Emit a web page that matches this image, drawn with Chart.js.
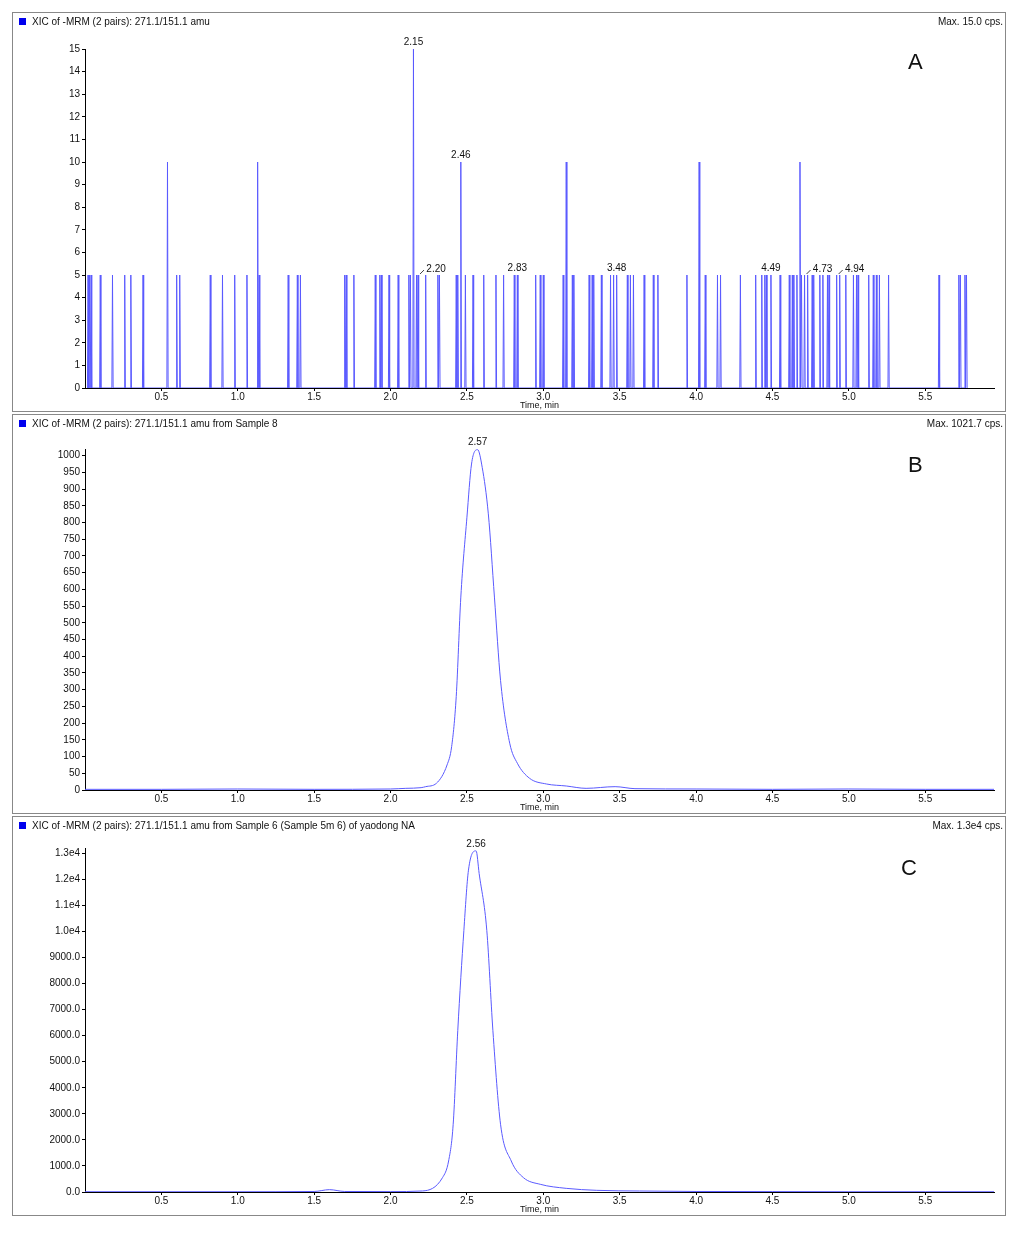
<!DOCTYPE html>
<html>
<head>
<meta charset="utf-8">
<script src="https://cdn.jsdelivr.net/npm/chart.js@4/dist/chart.umd.min.js"></script>
<style>
  body { margin: 0; background: #fff; font-family: "Liberation Sans", Arial, sans-serif; }
  .panel { position: absolute; left: 12px; width: 992px; height: 398px; border: 1px solid #888; }
  .panel canvas { position: absolute; left: 0; top: 0; }
  .hdr { position: absolute; top: 3px; left: 6px; font-size: 10px; color: #111; }
  .hdr i { display: inline-block; width: 7px; height: 7px; background: #0000ee; margin-right: 6px; }
  .max { position: absolute; top: 3px; right: 2px; font-size: 10px; color: #111; }
  .tag { position: absolute; font-size: 22px; color: #111; }
</style>
</head>
<body>
<div class="panel" style="top:12px">
  <canvas id="chartA" width="992" height="398"></canvas>
  <div class="hdr"><i></i>XIC of -MRM (2 pairs): 271.1/151.1 amu</div>
  <div class="max">Max. 15.0 cps.</div>
  <div class="tag" style="left:895px;top:36px">A</div>
</div>
<div class="panel" style="top:414px">
  <canvas id="chartB" width="992" height="398"></canvas>
  <div class="hdr"><i></i>XIC of -MRM (2 pairs): 271.1/151.1 amu from Sample 8</div>
  <div class="max">Max. 1021.7 cps.</div>
  <div class="tag" style="left:895px;top:37px">B</div>
</div>
<div class="panel" style="top:816px">
  <canvas id="chartC" width="992" height="398"></canvas>
  <div class="hdr"><i></i>XIC of -MRM (2 pairs): 271.1/151.1 amu from Sample 6 (Sample 5m 6) of yaodong NA</div>
  <div class="max">Max. 1.3e4 cps.</div>
  <div class="tag" style="left:888px;top:38px">C</div>
</div>
<script>
// Panel A: noise spikes (time, height)
const spikeTimesA = [0.02, 0.03, 0.04, 0.10, 0.18, 0.26, 0.30, 0.38, 0.54, 0.60, 0.62, 0.82, 0.90, 0.98, 1.06,
  1.13, 1.14, 1.33, 1.39, 1.41, 1.70, 1.71, 1.76, 1.90, 1.93, 1.94, 1.99, 2.05, 2.12, 2.13, 2.15, 2.17, 2.18,
  2.23, 2.31, 2.32, 2.43, 2.44, 2.46, 2.49, 2.54, 2.61, 2.69, 2.74, 2.81, 2.83, 2.95, 2.98, 3.00, 3.13, 3.15,
  3.19, 3.20, 3.30, 3.32, 3.33, 3.38, 3.44, 3.46, 3.48, 3.55, 3.57, 3.59, 3.66, 3.72, 3.75, 3.94, 4.02, 4.06,
  4.14, 4.16, 4.29, 4.39, 4.43, 4.45, 4.46, 4.49, 4.55, 4.61, 4.63, 4.64, 4.66, 4.68, 4.69, 4.71, 4.73, 4.76,
  4.77, 4.81, 4.83, 4.86, 4.87, 4.92, 4.94, 4.98, 5.03, 5.05, 5.06, 5.13, 5.16, 5.18, 5.20, 5.26, 5.59, 5.72,
  5.73, 5.76, 5.77];
const spikeHeightsA = [5, 5, 5, 5, 5, 5, 5, 5, 10, 5, 5, 5, 5, 5, 5,
  10, 5, 5, 5, 5, 5, 5, 5, 5, 5, 5, 5, 5, 5, 5, 15, 5, 5,
  5, 5, 5, 5, 5, 10, 5, 5, 5, 5, 5, 5, 5, 5, 5, 5, 5, 10,
  5, 5, 5, 5, 5, 5, 5, 5, 5, 5, 5, 5, 5, 5, 5, 5, 10, 5,
  5, 5, 5, 5, 5, 5, 5, 5, 5, 5, 5, 5, 5, 10, 5, 5, 5, 5,
  5, 5, 5, 5, 5, 5, 5, 5, 5, 5, 5, 5, 5, 5, 5, 5, 5, 5,
  5, 5, 5];
const labelsA = [[2.15, 15, '2.15', 0], [2.46, 10, '2.46', 0], [2.18, 5, '2.20', 14], [2.83, 5, '2.83', 0],
  [3.48, 5, '3.48', 0], [4.49, 5, '4.49', 0], [4.71, 5, '4.73', 14], [4.92, 5, '4.94', 14]];

// Panel B: peak at 2.57
const timesB = [0.0, 0.5, 1.0, 1.5, 2.0, 2.1, 2.2, 2.23, 2.30, 2.37, 2.40, 2.43, 2.46, 2.50, 2.53, 2.57, 2.60,
  2.64, 2.68, 2.72, 2.78, 2.83, 2.91, 3.02, 3.15, 3.28, 3.47, 3.60, 4.0, 4.5, 5.0, 5.5, 5.95];
const valuesB = [2, 2, 3, 2, 3, 5, 7, 10, 20, 75, 130, 280, 577, 816, 975, 1018, 965,
  826, 577, 328, 140, 80, 35, 18, 12, 5, 10, 4, 3, 2, 3, 2, 2];
const labelsB = [[2.57, 1018, '2.57', 0]];

// Panel C: peak at 2.56
const timesC = [0.0, 0.5, 1.0, 1.5, 1.6, 1.7, 2.0, 2.21, 2.34, 2.38, 2.41, 2.44, 2.48, 2.51, 2.56, 2.58,
  2.63, 2.67, 2.72, 2.79, 2.87, 2.98, 3.15, 3.35, 3.63, 4.0, 4.5, 5.0, 5.5, 5.95];
const valuesC = [10, 10, 10, 20, 90, 20, 15, 40, 550, 1190, 2600, 6190, 10040, 12350, 13090, 12220,
  10040, 6190, 2600, 1190, 550, 295, 140, 64, 38, 20, 15, 10, 10, 10];
const labelsC = [[2.56, 13090, '2.56', 0]];

const xTicks = [0.5, 1.0, 1.5, 2.0, 2.5, 3.0, 3.5, 4.0, 4.5, 5.0, 5.5];
const yTicksA = [0, 1, 2, 3, 4, 5, 6, 7, 8, 9, 10, 11, 12, 13, 14, 15];
const yTicksB = [0, 50, 100, 150, 200, 250, 300, 350, 400, 450, 500, 550, 600, 650, 700, 750, 800, 850, 900, 950, 1000];
const yTicksC = [0, 1000, 2000, 3000, 4000, 5000, 6000, 7000, 8000, 9000, 10000, 11000, 12000, 13000];
const yLabelsC = ['0.0', '1000.0', '2000.0', '3000.0', '4000.0', '5000.0', '6000.0', '7000.0', '8000.0',
  '9000.0', '1.0e4', '1.1e4', '1.2e4', '1.3e4'];

const LINE = '#5a5aff';
const FONT = { family: '"Liberation Sans", Arial, sans-serif', size: 10 };

function spikePoints(times, heights) {
  const pts = [];
  times.forEach((t, i) => {
    pts.push({ x: t - 0.004, y: 0 }, { x: t, y: heights[i] }, { x: t + 0.004, y: 0 });
  });
  return pts;
}

const peakLabels = {
  id: 'peakLabels',
  afterDatasetsDraw(chart, args, opts) {
    const ctx = chart.ctx, xs = chart.scales.x, ys = chart.scales.y;
    ctx.save();
    ctx.font = '10px "Liberation Sans", Arial, sans-serif';
    ctx.fillStyle = '#111';
    ctx.strokeStyle = '#111';
    ctx.textAlign = 'center';
    ctx.textBaseline = 'bottom';
    opts.items.forEach(([t, v, txt, off]) => {
      const px = xs.getPixelForValue(t), py = ys.getPixelForValue(v);
      if (off) {
        ctx.beginPath(); ctx.moveTo(px + 2, py - 1); ctx.lineTo(px + off - 8, py - 5); ctx.lineWidth = 0.8; ctx.stroke();
        ctx.fillText(txt, px + off + 4, py - 1);
      } else {
        ctx.fillText(txt, px, py - 2);
      }
    });
    ctx.restore();
  }
};

function makeChart(id, points, yMax, yTicks, yFmt, top, items, smooth) {
  return new Chart(document.getElementById(id), {
    type: 'line',
    data: { datasets: [{ data: points, borderColor: LINE, borderWidth: 1, pointRadius: 0, fill: false,
      cubicInterpolationMode: smooth ? 'monotone' : 'default', tension: smooth ? 0.4 : 0 }] },
    plugins: [peakLabels],
    options: {
      responsive: false, animation: false, parsing: false,
      layout: { padding: { top: top, right: 11, left: 0, bottom: 0 } },
      plugins: { legend: { display: false }, tooltip: { enabled: false }, peakLabels: { items: items } },
      scales: {
        x: {
          type: 'linear', min: 0, max: 5.95,
          afterFit(s) { s.height = 23; },
          afterBuildTicks(s) { s.ticks = xTicks.map(v => ({ value: v })); },
          grid: { drawOnChartArea: false, color: '#000', tickLength: 3 },
          border: { color: '#000' },
          ticks: { color: '#111', font: FONT, padding: 0, maxRotation: 0, autoSkip: false,
            callback: v => v.toFixed(1) },
          title: { display: true, text: 'Time, min', color: '#111', font: { ...FONT, size: 9 }, padding: 0 }
        },
        y: {
          min: 0, max: yMax,
          afterFit(s) { s.width = 72; },
          afterBuildTicks(s) { s.ticks = yTicks.map(v => ({ value: v })); },
          grid: { drawOnChartArea: false, color: '#000', tickLength: 3 },
          border: { color: '#000' },
          ticks: { color: '#111', font: FONT, padding: 2, autoSkip: false, callback: yFmt }
        }
      }
    }
  });
}

makeChart('chartA', spikePoints(spikeTimesA, spikeHeightsA), 15, yTicksA, v => String(v), 36, labelsA, false);
makeChart('chartB', timesB.map((t, i) => ({ x: t, y: valuesB[i] })), 1020, yTicksB, v => String(v), 34, labelsB, true);
makeChart('chartC', timesC.map((t, i) => ({ x: t, y: valuesC[i] })), 13200, yTicksC,
  v => yLabelsC[yTicksC.indexOf(v)] || '', 31, labelsC, true);
</script>
</body>
</html>
